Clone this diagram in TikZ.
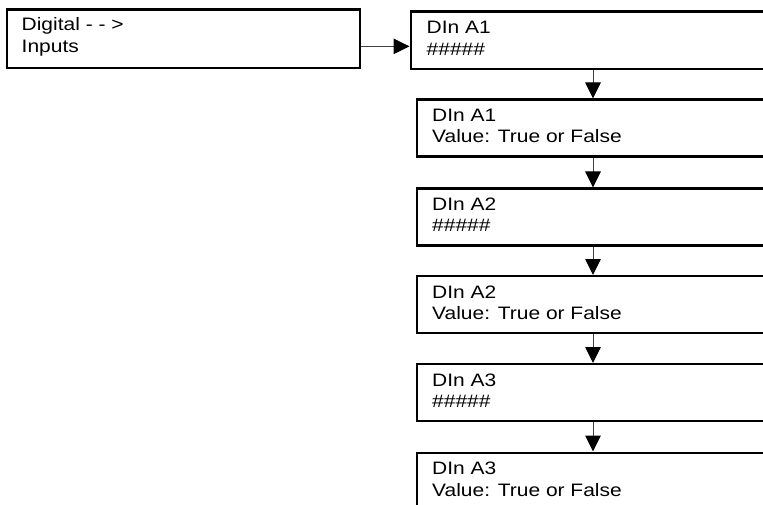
\documentclass[tikz,border=0pt]{standalone}
\usepackage{fontspec}
\setmainfont{Liberation Sans}[FakeStretch=1.165]
\usetikzlibrary{arrows.meta}
\newcommand\twolines[2]{\vtop{\hbox{#1}\hbox{#2}}}
\begin{document}
\begin{tikzpicture}[x=1pt,y=-1pt,
  box/.style={draw=black,line width=2.2pt,rectangle,inner sep=0pt,anchor=north west,minimum height=57pt},
  txt/.style={anchor=base west,inner sep=0pt,font=\fontsize{18}{21.5}\selectfont},
  conn/.style={draw=black!75,line width=1pt,-{Triangle[width=15.5pt,length=16pt,black]}}]
\useasboundingbox (0,0) rectangle (763,505);
\clip (0,0) rectangle (763,505);
\node[box,minimum width=353.5pt,minimum height=58.5pt] (L) at (5.5,8.5) {};
\node[box,minimum width=420pt,minimum height=57.5pt] (b1) at (409.5,10.5) {};
\node[box,minimum width=420pt] (b2) at (415.5,98.5) {};
\node[box,minimum width=420pt] (b3) at (415.5,187.5) {};
\node[box,minimum width=420pt] (b4) at (415.5,275) {};
\node[box,minimum width=420pt,minimum height=56.5pt] (b5) at (415.5,363) {};
\node[box,minimum width=420pt] (b6) at (415.5,451.5) {};
\node[txt] (Lt) at ([shift={(16,22.5)}]L.north west) {\twolines{Digital - - >}{Inputs}};
\node[txt] (b1t) at ([shift={(17,23.5)}]b1.north west) {\twolines{DIn A1}{\#\#\#\#\#}};
\node[txt] (b2t) at ([shift={(16.5,23)}]b2.north west) {\twolines{DIn A1}{Value: True or False}};
\node[txt] (b3t) at ([shift={(16.5,23)}]b3.north west) {\twolines{DIn A2}{\#\#\#\#\#}};
\node[txt] (b4t) at ([shift={(16.5,23)}]b4.north west) {\twolines{DIn A2}{Value: True or False}};
\node[txt] (b5t) at ([shift={(16.5,23)}]b5.north west) {\twolines{DIn A3}{\#\#\#\#\#}};
\node[txt] (b6t) at ([shift={(16.5,23)}]b6.north west) {\twolines{DIn A3}{Value: True or False}};
\coordinate (col) at (593,0);
\draw[conn] ([yshift=-7.5pt]L.east) -- ([yshift=-7.5pt]L.east -| b1.west);
\draw[conn] (col |- b1.south) -- (col |- b2.north);
\draw[conn] (col |- b2.south) -- (col |- b3.north);
\draw[conn] (col |- b3.south) -- (col |- b4.north);
\draw[conn] (col |- b4.south) -- (col |- b5.north);
\draw[conn] (col |- b5.south) -- (col |- b6.north);
\end{tikzpicture}
\end{document}
